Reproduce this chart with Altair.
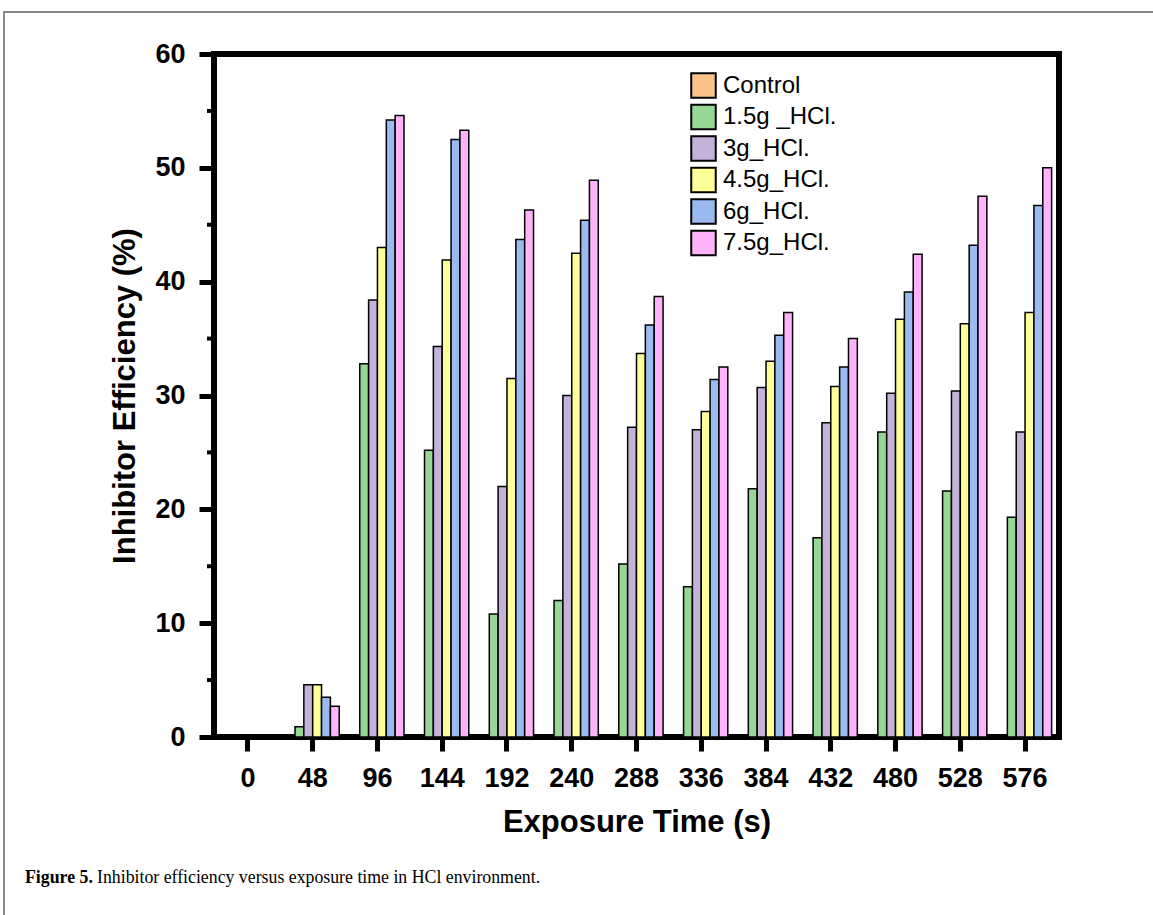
import altair as alt
import pandas as pd

# ---- data ----
times = [0, 48, 96, 144, 192, 240, 288, 336, 384, 432, 480, 528, 576]
series_names = ["Control", "1.5g _HCl.", "3g_HCl.", "4.5g_HCl.", "6g_HCl.", "7.5g_HCl."]
control = [0, 0, 0, 0, 0, 0, 0, 0, 0, 0, 0, 0, 0]
g1_5 = [0, 0.9, 32.8, 25.2, 10.8, 12.0, 15.2, 13.2, 21.8, 17.5, 26.8, 21.6, 19.3]
g3 = [0, 4.6, 38.4, 34.3, 22.0, 30.0, 27.2, 27.0, 30.7, 27.6, 30.2, 30.4, 26.8]
g4_5 = [0, 4.6, 43.0, 41.9, 31.5, 42.5, 33.7, 28.6, 33.0, 30.8, 36.7, 36.3, 37.3]
g6 = [0, 3.5, 54.2, 52.5, 43.7, 45.4, 36.2, 31.4, 35.3, 32.5, 39.1, 43.2, 46.7]
g7_5 = [0, 2.7, 54.6, 53.3, 46.3, 48.9, 38.7, 32.5, 37.3, 35.0, 42.4, 47.5, 50.0]
colors = ["#FAC38C", "#96D796", "#C4B2D8", "#FFFF99", "#99BBF0", "#FFB3FA"]

y_major = [0, 10, 20, 30, 40, 50, 60]
y_minor = [5, 15, 25, 35, 45, 55]

x_title = "Exposure Time (s)"
y_title = "Inhibitor Efficiency (%)"
caption_bold = "Figure 5."
caption_rest = "Inhibitor efficiency versus exposure time in HCl environment."

rows = []
for name, vals in zip(series_names, [control, g1_5, g3, g4_5, g6, g7_5]):
    for t, v in zip(times, vals):
        rows.append({"time": t, "series": name, "value": v})
df = pd.DataFrame(rows)

SANS = "Liberation Sans"
SERIF = "Liberation Serif"
W, H = 845, 683

yscale = alt.Scale(domain=[0, 60], nice=False, zero=True)
yaxis = alt.Axis(
    title=y_title,
    values=y_major,
    grid=False,
    labelFont=SANS,
    labelFontSize=27,
    labelFontWeight="bold",
    labelColor="black",
    labelPadding=14,
    tickSize=15,
    tickWidth=5,
    tickColor="black",
    domain=False,
    titleFont=SANS,
    titleFontSize=31,
    titleFontWeight="bold",
    titleColor="black",
    titlePadding=13,
)

bars = alt.Chart(df).mark_bar(stroke="black", strokeWidth=1.5).encode(
    x=alt.X(
        "time:O",
        sort=times,
        scale=alt.Scale(paddingInner=0.18, paddingOuter=0.114),
        axis=alt.Axis(
            title=x_title,
            labelAngle=0,
            labelFont=SANS,
            labelFontSize=27,
            labelFontWeight="bold",
            labelColor="black",
            labelPadding=14,
            tickSize=14,
            tickWidth=5,
            tickColor="black",
            domain=False,
            titleFont=SANS,
            titleFontSize=31,
            titleFontWeight="bold",
            titleColor="black",
            titlePadding=16,
        ),
    ),
    xOffset=alt.XOffset(
        "series:N",
        sort=series_names,
        scale=alt.Scale(domain=series_names, paddingInner=0, paddingOuter=0),
    ),
    y=alt.Y("value:Q", scale=yscale, axis=yaxis),
    color=alt.Color(
        "series:N",
        sort=series_names,
        scale=alt.Scale(domain=series_names, range=colors),
        legend=alt.Legend(
            title=None,
            orient="none",
            legendX=476,
            legendY=18,
            padding=0,
            symbolType="square",
            symbolSize=600,
            symbolStrokeColor="black",
            symbolStrokeWidth=2,
            symbolOpacity=1,
            labelFont=SANS,
            labelFontSize=24,
            labelColor="black",
            labelOffset=6,
            rowPadding=-1.5,
        ),
    ),
)

minor = alt.Chart(pd.DataFrame({"value": y_minor})).mark_rule(
    color="black", strokeWidth=4
).encode(
    y=alt.Y("value:Q", scale=yscale, axis=yaxis),
    x=alt.value(-7),
    x2=alt.value(0),
)

one = pd.DataFrame({"a": [caption_bold], "b": [caption_rest]})

outer_box = alt.Chart(one).mark_rect(
    fillOpacity=0, stroke="#8a8a8a", strokeWidth=2
).encode(
    x=alt.value(-210), x2=alt.value(960), y=alt.value(-42), y2=alt.value(900)
)

cap1 = alt.Chart(one).mark_text(
    font=SERIF, fontSize=17.8, fontWeight="bold", align="left", baseline="middle", color="black"
).encode(text="a:N", x=alt.value(-189), y=alt.value(824))

cap2 = alt.Chart(one).mark_text(
    font=SERIF, fontSize=17.8, align="left", baseline="middle", color="black"
).encode(text="b:N", x=alt.value(-117), y=alt.value(824))

chart = alt.layer(outer_box, bars, minor, cap1, cap2).properties(
    width=W,
    height=H,
    padding={"left": 214, "top": 54, "right": 94, "bottom": 178},
    autosize=alt.AutoSizeParams(type="none"),
    background="white",
).configure_view(
    stroke="black", strokeWidth=6
)

chart.save("out.html", embed_options={"renderer": "svg", "actions": False})
